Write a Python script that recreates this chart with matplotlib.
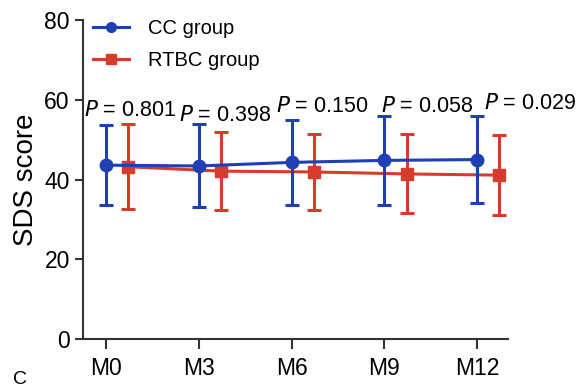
import numpy as np
import matplotlib
matplotlib.use('Agg')
from matplotlib import pyplot as plt
from matplotlib.lines import Line2D

plt.rcParams['font.family'] = ['Liberation Sans', 'DejaVu Sans']

# data
months = ['M0', 'M3', 'M6', 'M9', 'M12']
cc_mean = [43.6, 43.4, 44.3, 44.8, 45.0]
cc_sd = [10.0, 10.4, 10.7, 11.1, 10.9]
rtbc_mean = [43.2, 42.1, 41.9, 41.4, 41.1]
rtbc_sd = [10.6, 9.8, 9.6, 9.9, 10.1]
p_values = ['0.801', '0.398', '0.150', '0.058', '0.029']

blue = '#1f3fb4'
red = '#d73b2b'

fig = plt.figure(figsize=(5.78, 3.89), dpi=100)
ax = fig.add_axes([0.1436, 0.1285, 0.735, 0.82])

x = np.arange(len(months))
ax.errorbar(x, cc_mean, yerr=cc_sd, color=blue, lw=2.2, marker='o', ms=9,
            capsize=5, capthick=2.2, elinewidth=2.2, zorder=3)
ax.errorbar(x + 0.24, rtbc_mean, yerr=rtbc_sd, color=red, lw=2.2, marker='s', ms=8.5,
            capsize=5, capthick=2.2, elinewidth=2.2, zorder=2)

# p-value labels (placed by hand)
p_dx = [0.26, 0.28, 0.33, 0.46, 0.57]
p_y = [54.6, 53.4, 55.7, 55.7, 56.4]
for i, p in enumerate(p_values):
    ax.text(x[i] + p_dx[i], p_y[i], '$\\it{P}$ = ' + p, ha='center', va='bottom',
            fontsize=15.5)

ax.set_xlim(-0.25, 4.33)
ax.set_ylim(0, 80)
ax.set_yticks([0, 20, 40, 60, 80])
ax.set_xticks(x)
ax.set_xticklabels(months)
ax.set_ylabel('SDS score', fontsize=20, labelpad=4)
ax.tick_params(labelsize=16.5, width=1.5, length=6, color='#333333')
ax.tick_params(axis='x', length=7, pad=6)
for s in ['top', 'right']:
    ax.spines[s].set_visible(False)
for s in ['left', 'bottom']:
    ax.spines[s].set_linewidth(1.5)
    ax.spines[s].set_color('#333333')

handles = [Line2D([], [], color=blue, lw=2.2, marker='o', ms=7),
           Line2D([], [], color=red, lw=2.2, marker='s', ms=7)]
ax.legend(handles, ['CC group', 'RTBC group'], loc='upper left',
          bbox_to_anchor=(-0.018, 1.06), frameon=False, fontsize=14.5,
          handlelength=1.75, handletextpad=0.95, labelspacing=0.65)

fig.text(0.022, 0.013, 'C', fontsize=14)

fig.savefig('out.png', dpi=100)
